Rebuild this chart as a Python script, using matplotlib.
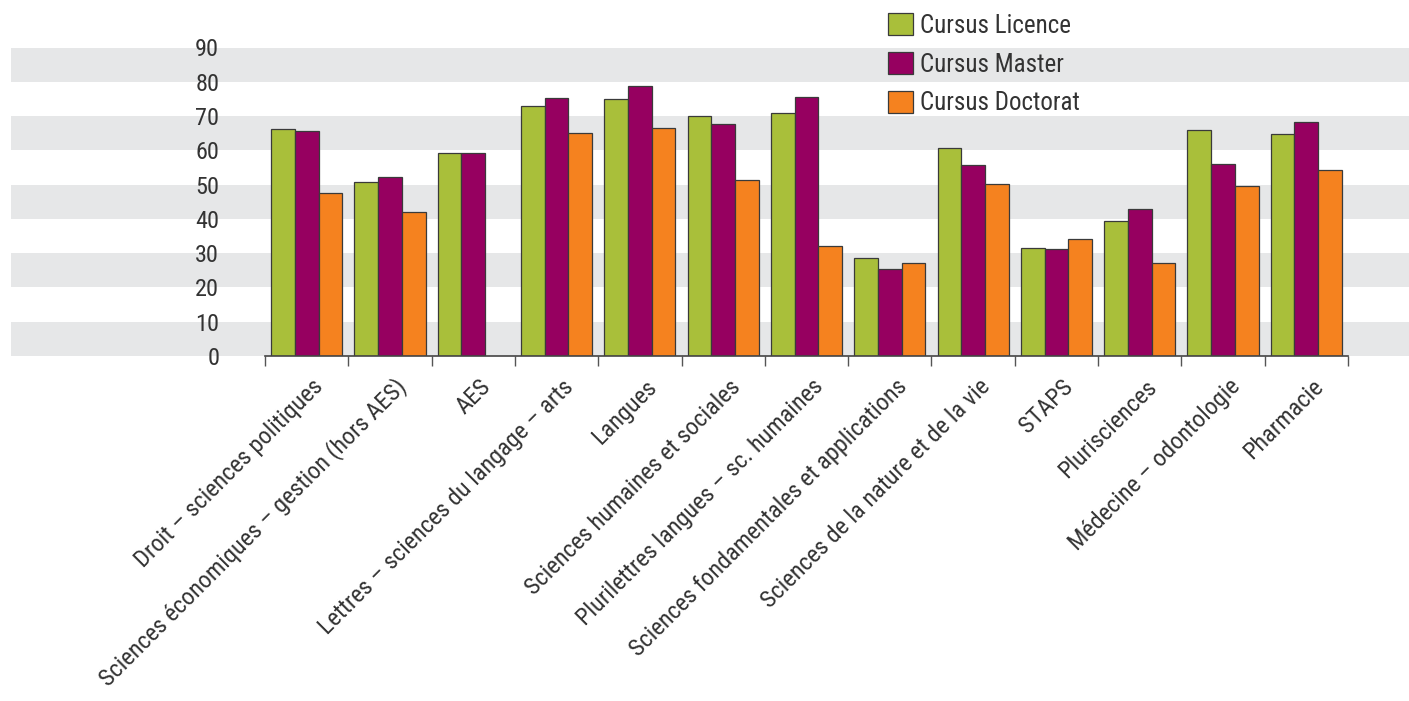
import matplotlib
matplotlib.use("Agg")
import matplotlib.pyplot as plt
import matplotlib.transforms as mtransforms
from matplotlib import font_manager
import numpy as np

categories = [
    "Droit – sciences politiques",
    "Sciences économiques – gestion (hors AES)",
    "AES",
    "Lettres – sciences du langage – arts",
    "Langues",
    "Sciences humaines et sociales",
    "Plurilettres langues – sc. humaines",
    "Sciences fondamentales et applications",
    "Sciences de la nature et de la vie",
    "STAPS",
    "Plurisciences",
    "Médecine – odontologie",
    "Pharmacie",
]
licence = [66.1, 50.7, 59.1, 73.0, 75.0, 69.9, 71.0, 28.7, 60.7, 31.4, 39.3, 66.0, 64.9]
master = [65.7, 52.2, 59.2, 75.4, 78.7, 67.6, 75.7, 25.5, 55.7, 31.3, 43.0, 56.1, 68.2]
doctorat = [47.5, 42.1, np.nan, 65.2, 66.5, 51.2, 32.1, 27.1, 50.2, 34.0, 27.0, 49.7, 54.4]
series_names = ["Cursus Licence", "Cursus Master", "Cursus Doctorat"]
yticks = [0, 10, 20, 30, 40, 50, 60, 70, 80, 90]

colors = ["#A9BF3A", "#960060", "#F5821F"]
edge = "#3a3a3a"
text_col = "#333333"
band_col = "#E6E7E8"

available = {f.name for f in font_manager.fontManager.ttflist}
family = "DejaVu Sans"
for cand in ["Liberation Sans Narrow", "Roboto Condensed", "Open Sans Condensed", "DejaVu Sans Condensed"]:
    if cand in available:
        family = cand
        break
plt.rcParams["font.family"] = [family, "DejaVu Sans"]

W, H = 1409, 701
fig = plt.figure(figsize=(W / 100, H / 100), dpi=100)
ax_left, ax_right = 265 / W, 1348 / W
ax_bottom = (H - 356) / H
ax_top = (H - 47.5) / H
ax = fig.add_axes([ax_left, ax_bottom, ax_right - ax_left, ax_top - ax_bottom])
ax.set_xlim(0, len(categories))
ax.set_ylim(0, 90)

# background bands spanning the figure width
trans = mtransforms.blended_transform_factory(fig.transFigure, ax.transData)
for lo in range(0, 90, 20):
    r = plt.Rectangle((11 / W, lo), 1 - 11 / W, 10, transform=trans,
                      facecolor=band_col, edgecolor="none", zorder=0, clip_on=False)
    ax.add_artist(r)
ax.patch.set_visible(False)

x = np.arange(len(categories))
bw = 0.285
off0 = (1 - 3 * bw) / 2 + bw / 2
for i, (vals, c, name) in enumerate(zip([licence, master, doctorat], colors, series_names)):
    ax.bar(x + off0 + i * bw, vals, width=bw, color=c, edgecolor=edge,
           linewidth=0.9, label=name, zorder=3)

for s in ["top", "right", "left"]:
    ax.spines[s].set_visible(False)
ax.spines["bottom"].set_color("#444444")
ax.spines["bottom"].set_linewidth(1.2)
ax.spines["bottom"].set_zorder(4)

ax.set_yticks(yticks)
ax.set_yticklabels([str(v) for v in yticks], fontsize=17.5, color=text_col)
ax.tick_params(axis="y", length=0, pad=33)

ax.set_xticks(np.arange(len(categories) + 1))
ax.set_xticklabels([])
ax.tick_params(axis="x", which="major", length=7.5, width=1, color="#555555", direction="out")

off = mtransforms.ScaledTranslation(18 / 100, -32 / 100, fig.dpi_scale_trans)
for i, lab in enumerate(categories):
    ax.text(i + 0.5, 0, lab, transform=ax.get_xaxis_transform() + off,
            rotation=45, rotation_mode="anchor", ha="right", va="baseline",
            fontsize=17.5, color=text_col, zorder=5)

leg = ax.legend(loc="upper left", bbox_to_anchor=(888 / W, 1 - 13 / H),
                bbox_transform=fig.transFigure, frameon=False, fontsize=18,
                handlelength=1.0, handleheight=1.0, handletextpad=0.3,
                labelspacing=0.56, borderaxespad=0, borderpad=0)
leg.set_zorder(6)
for t in leg.get_texts():
    t.set_color(text_col)

fig.savefig("out.png", dpi=100)
